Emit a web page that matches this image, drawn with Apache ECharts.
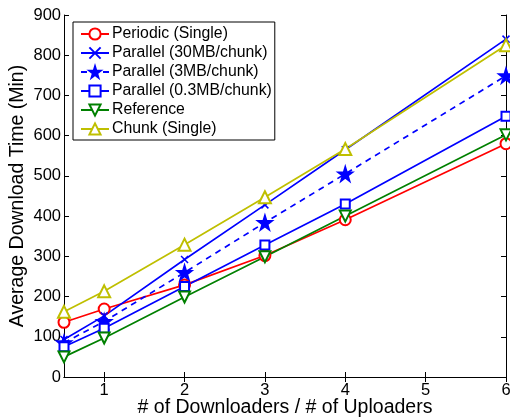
<!DOCTYPE html>
<html>
<head>
<meta charset="utf-8">
<script src="https://cdn.jsdelivr.net/npm/echarts@6/dist/echarts.min.js"></script>
<style>
html,body{margin:0;padding:0;background:#fff;}
#chart{width:510px;height:418px;}
</style>
</head>
<body>
<div id="chart"></div>
<script>
const xValues = [0.5, 1, 2, 3, 4, 6];
const xTicks = [1, 2, 3, 4, 5, 6];
const seriesNames = ['Periodic (Single)', 'Parallel (30MB/chunk)', 'Parallel (3MB/chunk)', 'Parallel (0.3MB/chunk)', 'Reference', 'Chunk (Single)'];
const periodicSingle = [136, 169, 229, 302, 391, 580];
const parallel30MB = [93, 152, 292, 428, 565, 840];
const parallel3MB = [85, 138, 260, 384, 505, 749];
const parallel03MB = [75, 121, 225, 328, 430, 648];
const reference = [50, 97, 199, 299, 400, 602];
const chunkSingle = [162, 213, 329, 447, 567, 825];

const FONT = '"Liberation Sans", Arial, sans-serif';
const starPath = 'path://M50,0 L61,35 L98,35 L68,57 L79,91 L50,70 L21,91 L32,57 L2,35 L39,35 Z';
const xPath = 'path://M0,0 L10,10 M10,0 L0,10';

function pairs(vals) { return xValues.map((x, i) => [x, vals[i]]); }

function mk(name, vals, color, symbol, size, extra) {
  const s = {
    name: name,
    type: 'line',
    data: pairs(vals),
    symbol: symbol,
    symbolSize: size,
    showAllSymbol: true,
    lineStyle: { color: color, width: 1.7 },
    itemStyle: { color: color, borderColor: color, borderWidth: 1.5 },
    emphasis: { disabled: true },
    animation: false
  };
  return Object.assign(s, extra || {});
}

const chart = echarts.init(document.getElementById('chart'));
const tickStyle = { inside: true, length: 5, lineStyle: { color: '#000', width: 1 } };
const lineStyleAxis = { show: true, lineStyle: { color: '#000', width: 1 } };

chart.setOption({
  animation: false,
  textStyle: { fontFamily: FONT },
  grid: { left: 64, right: 4, top: 15, bottom: 41, containLabel: false, outerBoundsMode: 'none' },
  legend: {
    left: 73, top: 22,
    orient: 'vertical',
    data: seriesNames,
    itemWidth: 28, itemHeight: 14, itemGap: 3,
    padding: [4, 3, 3, 7],
    borderColor: '#000', borderWidth: 1,
    backgroundColor: '#fff',
    textStyle: { fontFamily: FONT, fontSize: 15.8, color: '#000', padding: [0, 0, 0, -2] },
    selectedMode: false
  },
  xAxis: [{
    type: 'value', min: 0.5, max: 6, position: 'bottom',
    axisLine: lineStyleAxis,
    axisTick: Object.assign({ customValues: xTicks }, tickStyle),
    axisLabel: { customValues: xTicks, fontFamily: FONT, fontSize: 16.5, color: '#000', margin: 5 },
    splitLine: { show: false },
    name: '# of Downloaders / # of Uploaders', nameLocation: 'middle', nameGap: 21,
    nameMoveOverlap: false,
    nameTextStyle: { fontFamily: FONT, fontSize: 19.5, color: '#000' }
  }, {
    type: 'value', min: 0.5, max: 6, position: 'top',
    axisLine: lineStyleAxis,
    axisTick: Object.assign({ customValues: xTicks }, tickStyle),
    axisLabel: { show: false },
    splitLine: { show: false }
  }],
  yAxis: [{
    type: 'value', min: 0, max: 900, interval: 100, position: 'left',
    axisLine: lineStyleAxis,
    axisTick: tickStyle,
    axisLabel: { fontFamily: FONT, fontSize: 16.5, color: '#000', margin: 3 },
    splitLine: { show: false },
    name: 'Average Download Time (Min)', nameLocation: 'middle', nameGap: 36,
    nameMoveOverlap: false,
    nameTextStyle: { fontFamily: FONT, fontSize: 19.5, color: '#000' }
  }, {
    type: 'value', min: 0, max: 900, interval: 100, position: 'right',
    axisLine: lineStyleAxis,
    axisTick: tickStyle,
    axisLabel: { show: false },
    splitLine: { show: false }
  }],
  series: [
    mk(seriesNames[0], periodicSingle, '#ff0000', 'emptyCircle', 11),
    mk(seriesNames[1], parallel30MB, '#0000ff', xPath, 7),
    mk(seriesNames[2], parallel3MB, '#0000ff', starPath, 15,
       { lineStyle: { color: '#0000ff', width: 1.7, type: [6, 5] } }),
    mk(seriesNames[3], parallel03MB, '#0000ff', 'emptyRect', 9),
    mk(seriesNames[4], reference, '#008000', 'emptyTriangle', 11, { symbolRotate: 180 }),
    mk(seriesNames[5], chunkSingle, '#bfbf00', 'emptyTriangle', 12)
  ]
});
</script>
</body>
</html>
